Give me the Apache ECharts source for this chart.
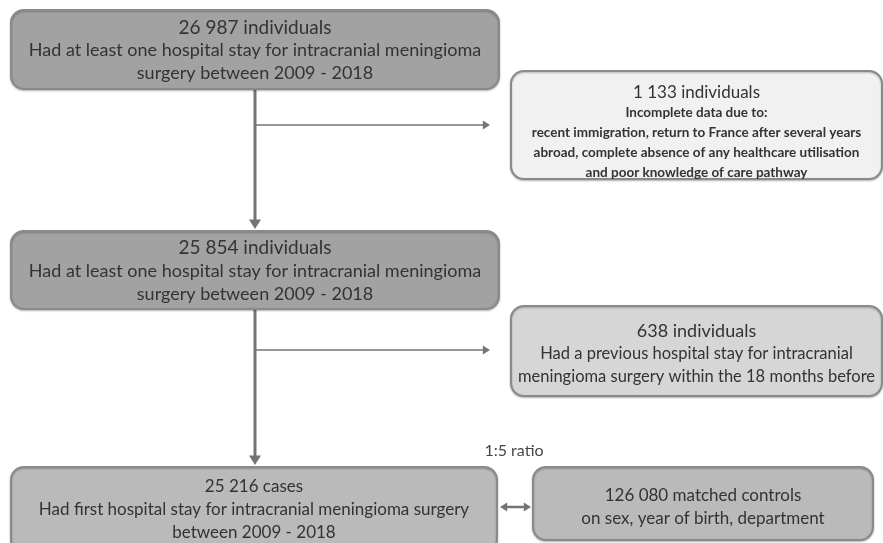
<!DOCTYPE html>
<html>
<head>
<meta charset="utf-8">
<script src="https://cdn.jsdelivr.net/npm/echarts@6/dist/echarts.min.js"></script>
<style>
html,body{margin:0;padding:0;background:#fff;}
#c{width:883px;height:543px;}
</style>
</head>
<body>
<div id="c"></div>
<script>
// ---- data ----
const boxCounts = ['26 987 individuals', '1 133 individuals', '25 854 individuals', '638 individuals', '25 216 cases', '126 080 matched controls'];
const boxDescriptions = [
  ['Had at least one hospital stay for intracranial meningioma', 'surgery between 2009 - 2018'],
  ['Incomplete data due to:', 'recent immigration, return to France after several years', 'abroad, complete absence of any healthcare utilisation', 'and poor knowledge of care pathway'],
  ['Had at least one hospital stay for intracranial meningioma', 'surgery between 2009 - 2018'],
  ['Had a previous hospital stay for intracranial', 'meningioma surgery within the 18 months before'],
  ['Had first hospital stay for intracranial meningioma surgery', 'between 2009 - 2018'],
  ['on sex, year of birth, department']
];
const matchingLabel = '1:5 ratio';

// ---- layout (positions / styles) ----
const boxLayout = [
  {x1: 11, y1: 10, x2: 499, y2: 89, fill: '#a2a2a2', cs: 19, ds: 18, lh: 23, dw: 'normal', dy: 1},
  {x1: 511, y1: 71, x2: 882, y2: 179, fill: '#f1f1f1', cs: 17, ds: 13.5, lh: 20, dw: 'bold', dy: 8},
  {x1: 11, y1: 231, x2: 499, y2: 309, fill: '#a2a2a2', cs: 19, ds: 18, lh: 23, dw: 'normal', dy: 1},
  {x1: 511, y1: 306, x2: 882, y2: 396, fill: '#d6d6d6', cs: 18, ds: 16.5, lh: 23, dw: 'normal', dy: 3},
  {x1: 11, y1: 467, x2: 497, y2: 552, fill: '#bababa', cs: 17, ds: 17, lh: 23, dw: 'normal', dy: 0},
  {x1: 533, y1: 467, x2: 873, y2: 540, fill: '#bababa', cs: 17, ds: 17, lh: 23, dw: 'normal', dy: 4}
];
const connectorLayout = [
  {pts: [[255, 89], [255, 229]], w: 3, head: 'end'},
  {pts: [[255, 125], [490, 125]], w: 1.6, head: 'end'},
  {pts: [[255, 309], [255, 465]], w: 3, head: 'end'},
  {pts: [[255, 350], [490, 350]], w: 1.6, head: 'end'},
  {pts: [[500, 507], [531, 507]], w: 2.5, head: 'both'}
];

const FONT = 'Lato, "Open Sans", sans-serif';
const TEXT_COLOR = '#121212';
const chart = echarts.init(document.getElementById('c'), null, {renderer: 'canvas'});

function boxRender(params, api) {
  const i = params.dataIndex;
  const L = boxLayout[i];
  const p1 = api.coord([L.x1, L.y1]);
  const p2 = api.coord([L.x2, L.y2]);
  const rich = {
    c: {fontSize: L.cs, lineHeight: L.lh, fontFamily: FONT, color: TEXT_COLOR},
    d: {fontSize: L.ds, lineHeight: L.lh, fontFamily: FONT, color: TEXT_COLOR, fontWeight: L.dw}
  };
  const text = '{c|' + boxCounts[i] + '}\n' + boxDescriptions[i].map(s => '{d|' + s + '}').join('\n');
  return {
    type: 'rect',
    shape: {x: p1[0], y: p1[1], width: p2[0] - p1[0], height: p2[1] - p1[1], r: 13},
    style: {fill: L.fill, stroke: '#8a8a8a', lineWidth: 2, shadowBlur: 2, shadowColor: 'rgba(0,0,0,0.25)', shadowOffsetY: 1},
    textContent: {style: {text: text, rich: rich, align: 'center', verticalAlign: 'middle'}},
    textConfig: {position: 'inside', offset: [0, L.dy]}
  };
}

function arrowHead(tip, from, size) {
  const dx = tip[0] - from[0], dy = tip[1] - from[1];
  const len = Math.sqrt(dx * dx + dy * dy);
  const ux = dx / len, uy = dy / len;
  const bx = tip[0] - ux * size * 1.6, by = tip[1] - uy * size * 1.6;
  return [tip, [bx - uy * size, by + ux * size], [bx + uy * size, by - ux * size]];
}

function connRender(params, api) {
  const C = connectorLayout[params.dataIndex];
  const pts = C.pts.map(p => api.coord(p));
  const size = C.w >= 3 ? 6 : 4.5;
  const children = [];
  let a = pts[0], b = pts[pts.length - 1];
  const dx = b[0] - a[0], dy = b[1] - a[1];
  const len = Math.sqrt(dx * dx + dy * dy);
  const ux = dx / len, uy = dy / len;
  const s = C.head === 'both' ? [a[0] + ux * size * 1.4, a[1] + uy * size * 1.4] : a;
  const e = [b[0] - ux * size * 1.4, b[1] - uy * size * 1.4];
  children.push({type: 'line', shape: {x1: s[0], y1: s[1], x2: e[0], y2: e[1]}, style: {stroke: '#747474', lineWidth: C.w}});
  children.push({type: 'polygon', shape: {points: arrowHead(b, a, size)}, style: {fill: '#747474'}});
  if (C.head === 'both') children.push({type: 'polygon', shape: {points: arrowHead(a, b, size)}, style: {fill: '#747474'}});
  return {type: 'group', children: children};
}

chart.setOption({
  animation: false,
  backgroundColor: '#ffffff',
  grid: {left: 0, right: 0, top: 0, bottom: 0},
  xAxis: {type: 'value', min: 0, max: 883, show: false},
  yAxis: {type: 'value', min: 0, max: 543, inverse: true, show: false},
  series: [
    {type: 'custom', renderItem: connRender, data: connectorLayout.map((c, i) => [i]), clip: false, silent: true, z: 1},
    {type: 'custom', renderItem: boxRender, data: boxCounts.map((c, i) => [i]), clip: true, silent: true, z: 2},
    {type: 'scatter', data: [[514, 451]], symbolSize: 0, silent: true,
     label: {show: true, position: 'inside', formatter: matchingLabel, fontSize: 16, fontFamily: FONT, color: TEXT_COLOR}}
  ]
});
</script>
</body>
</html>
